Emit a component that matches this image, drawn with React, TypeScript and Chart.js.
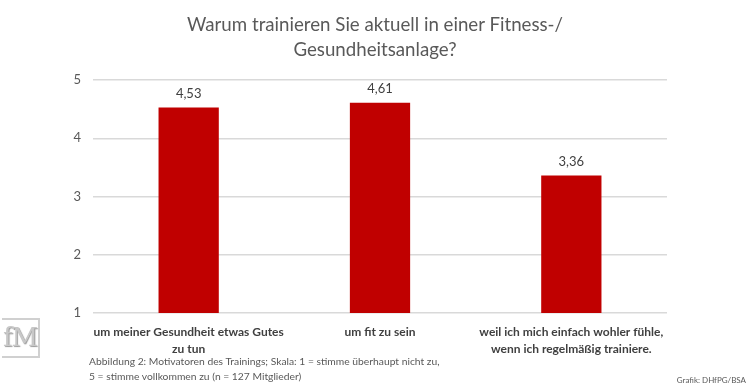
import React, { useEffect, useRef } from "react";
import { Chart, registerables } from "chart.js";

Chart.register(...registerables);

const categories: string[][] = [
  ["um meiner Gesundheit etwas Gutes", "zu tun"],
  ["um fit zu sein"],
  ["weil ich mich einfach wohler fühle,", "wenn ich regelmäßig trainiere."],
];
const values: number[] = [4.53, 4.61, 3.36];
const yTicks: number[] = [1, 2, 3, 4, 5];
const titleLines: string[] = ["Warum trainieren Sie aktuell in einer Fitness-/", "Gesundheitsanlage?"];
const captionLines: string[] = [
  "Abbildung 2: Motivatoren des Trainings; Skala: 1 = stimme überhaupt nicht zu,",
  "5 = stimme vollkommen zu (n = 127 Mitglieder)",
];
const sourceText = "Grafik: DHfPG/BSA";

const FONT = "Lato, 'Open Sans', sans-serif";

const valueLabels = {
  id: "valueLabels",
  afterDatasetsDraw(chart: any) {
    const ctx = chart.ctx;
    const meta = chart.getDatasetMeta(0);
    ctx.save();
    ctx.font = `13px ${FONT}`;
    ctx.fillStyle = "#404040";
    ctx.textAlign = "center";
    ctx.textBaseline = "middle";
    meta.data.forEach((bar: any, i: number) => {
      ctx.fillText(values[i].toFixed(2).replace(".", ","), bar.x, bar.y - 14);
    });
    ctx.restore();
  },
};

export default function App() {
  const ref = useRef<HTMLCanvasElement>(null);
  useEffect(() => {
    const chart = new Chart(ref.current!, {
      type: "bar",
      data: {
        labels: categories,
        datasets: [
          {
            data: values,
            backgroundColor: "#C00000",
            barPercentage: 0.63,
            categoryPercentage: 0.5,
          },
        ],
      },
      options: {
        animation: false,
        responsive: false,
        maintainAspectRatio: false,
        layout: { padding: { top: 80, right: 81, left: 0, bottom: 0 } },
        plugins: { legend: { display: false }, tooltip: { enabled: false }, title: { display: false } },
        scales: {
          x: {
            grid: { display: false, drawTicks: false },
            border: { display: false },
            ticks: {
              color: "#404040",
              font: { family: FONT, size: 12, weight: "bold", lineHeight: 1.45 },
              padding: 10,
              maxRotation: 0,
              autoSkip: false,
            },
            afterFit: (s: any) => {
              s.height = 77;
            },
          },
          y: {
            min: 1,
            max: 5,
            afterBuildTicks: (s: any) => {
              s.ticks = yTicks.map((v) => ({ value: v }));
            },
            grid: { color: "#D9D9D9", lineWidth: 1.5, drawTicks: false },
            border: { display: false },
            ticks: {
              color: "#595959",
              font: { family: FONT, size: 13 },
              padding: 12,
            },
            afterFit: (s: any) => {
              s.width = 93;
            },
          },
        },
      },
      plugins: [valueLabels],
    });
    return () => chart.destroy();
  }, []);

  return (
    <div style={{ position: "absolute", left: 0, top: 0, width: 748, height: 390, background: "#fff", fontFamily: FONT }}>
      <canvas ref={ref} width={748} height={390} style={{ position: "absolute", left: 0, top: 0 }} />
      <div style={{ position: "absolute", left: 0, top: 12, width: 750, textAlign: "center", fontSize: 18.7, lineHeight: "25px", color: "#595959" }}>
        {titleLines.map((t, i) => (
          <div key={i}>{t}</div>
        ))}
      </div>
      <div style={{ position: "absolute", left: 89, top: 354, fontSize: 10.3, lineHeight: "15px", color: "#595959" }}>
        {captionLines.map((t, i) => (
          <div key={i}>{t}</div>
        ))}
      </div>
      <div style={{ position: "absolute", right: 2, top: 375, fontSize: 8, color: "#595959" }}>{sourceText}</div>
      <div
        style={{
          position: "absolute",
          left: 2,
          top: 318,
          width: 38,
          height: 40,
          borderTop: "2px solid #d0d0d0",
          borderBottom: "2px solid #d0d0d0",
          borderRight: "2px solid #d0d0d0",
          boxSizing: "border-box",
          color: "#c8c8c8",
          fontFamily: "'DejaVu Serif', serif",
          fontSize: 26,
          lineHeight: "34px",
          textAlign: "center",
          letterSpacing: -1,
          textShadow: "1px 1px 1px #999",
        }}
      >
        fM
      </div>
    </div>
  );
}
